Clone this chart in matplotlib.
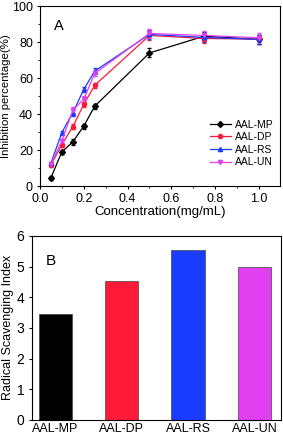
import matplotlib.pyplot as plt
from matplotlib.ticker import MultipleLocator

conc = [0.05, 0.1, 0.15, 0.2, 0.25, 0.5, 0.75, 1.0]
mp = [4.6, 19.0, 24.6, 33.3, 44.4, 74.0, 83.3, 81.5]
dp = [11.7, 23.0, 33.0, 45.4, 56.0, 83.7, 82.0, 81.7]
rs = [12.6, 29.8, 40.7, 53.7, 63.9, 84.3, 82.6, 81.5]
un = [12.2, 25.0, 42.2, 48.3, 62.6, 84.8, 83.7, 82.4]
err = [1.0, 1.0, 1.5, 1.5, 1.5, 2.5, 2.5, 2.5]

samples = ['AAL-MP', 'AAL-DP', 'AAL-RS', 'AAL-UN']
rsi = [3.45, 4.54, 5.54, 4.98]

colors = ['black', '#ff1a3a', '#1a3cff', '#e040f0']
markers = ['D', 'o', '^', 'v']

plt.rcParams['font.family'] = ['Liberation Sans', 'DejaVu Sans']
fig = plt.figure(figsize=(2.83, 4.36), dpi=100)

# panel A
ax1 = fig.add_axes([0.141, 0.573, 0.848, 0.413])
handles = []
for s, ys, c, m in zip(samples, [mp, dp, rs, un], colors, markers):
    eb = ax1.errorbar(conc, ys, yerr=err, color=c, marker=m, markersize=3,
                      lw=0.9, elinewidth=0.6, capsize=1.5, label=s)
    handles.append(eb[0])
ax1.set_xlim(0, 1.095)
ax1.set_ylim(0, 100)
ax1.xaxis.set_major_locator(MultipleLocator(0.2))
ax1.xaxis.set_minor_locator(MultipleLocator(0.1))
ax1.yaxis.set_major_locator(MultipleLocator(20))
ax1.yaxis.set_minor_locator(MultipleLocator(10))
ax1.tick_params(which='both', direction='out', labelsize=9, top=False, right=False)
ax1.tick_params(which='major', length=2.5, pad=2.5)
ax1.tick_params(which='minor', length=1.5)
ax1.set_xlabel('Concentration(mg/mL)', fontsize=9.5, labelpad=0.5)
ax1.set_ylabel('Inhibition percentage(%)', fontsize=8.2, labelpad=1)
ax1.text(0.06, 0.87, 'A', transform=ax1.transAxes, fontsize=10.5)
ax1.legend(handles, samples, loc='lower right', fontsize=7.5, frameon=False,
           handlelength=2.0, labelspacing=0.25, handletextpad=0.4,
           borderaxespad=0.2, bbox_to_anchor=(1.0, 0.07))

# panel B
ax2 = fig.add_axes([0.113, 0.037, 0.88, 0.422])
ax2.bar(range(len(samples)), rsi, width=0.5, color=colors,
        edgecolor='#444444', linewidth=0.5)
ax2.set_xticks(range(len(samples)))
ax2.set_xticklabels(samples)
ax2.set_xlim(-0.35, 3.4)
ax2.set_ylim(0, 6)
ax2.tick_params(axis='x', length=0, labelsize=9, pad=2)
ax2.tick_params(axis='y', direction='out', length=2, labelsize=10)
ax2.set_ylabel('Radical Scavenging Index', fontsize=9, labelpad=2)
ax2.text(0.055, 0.84, 'B', transform=ax2.transAxes, fontsize=11)

fig.savefig('out.png', dpi=100)
